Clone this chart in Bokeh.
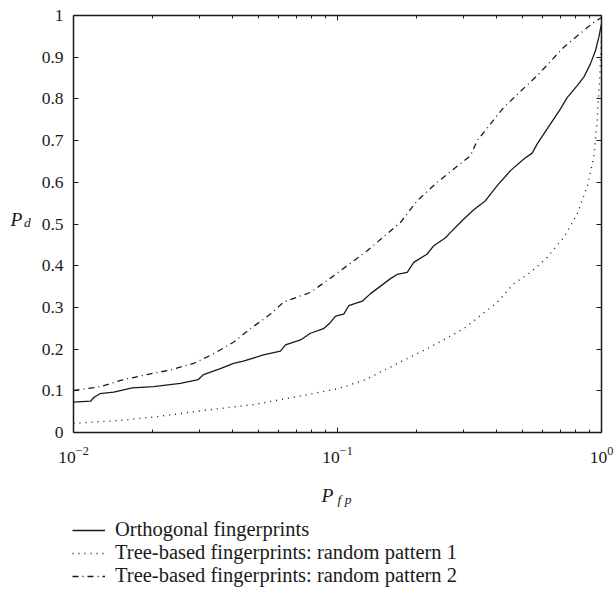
from bokeh.plotting import figure
from bokeh.layouts import column, row
from bokeh.models import (Range1d, LogAxis, LinearAxis, FixedTicker, NumeralTickFormatter,
                          LogTickFormatter, CustomJSTickFormatter, Legend, LegendItem)
from bokeh.core.properties import value
from bokeh.embed import file_html
from bokeh.resources import INLINE

# Orthogonal fingerprints (solid)
orth_pfp = [0.01, 0.0116, 0.012, 0.0126, 0.0142, 0.0167, 0.0201, 0.0254, 0.0297, 0.0311,
            0.036, 0.0404, 0.044, 0.0524, 0.0608, 0.0635, 0.0724, 0.079, 0.0885, 0.094,
            0.0983, 0.1056, 0.1103, 0.1241, 0.1334, 0.1588, 0.1683, 0.1837, 0.1945, 0.2187,
            0.2316, 0.2565, 0.268, 0.3009, 0.3283, 0.3636, 0.4026, 0.4522, 0.5078, 0.5464,
            0.5708, 0.6409, 0.6993, 0.7413, 0.809, 0.857, 0.908, 0.949, 0.977, 1.0]
orth_pd = [0.073, 0.075, 0.085, 0.093, 0.097, 0.107, 0.110, 0.118, 0.127, 0.139,
           0.153, 0.166, 0.171, 0.186, 0.195, 0.210, 0.222, 0.238, 0.249, 0.264,
           0.279, 0.284, 0.304, 0.315, 0.333, 0.369, 0.379, 0.384, 0.408, 0.428,
           0.448, 0.467, 0.480, 0.512, 0.534, 0.556, 0.592, 0.628, 0.656, 0.670,
           0.692, 0.740, 0.776, 0.803, 0.832, 0.852, 0.884, 0.916, 0.948, 0.98]

# Tree-based fingerprints: random pattern 1 (dotted)
tree1_pfp = [0.01, 0.01507, 0.0201, 0.0312, 0.0482, 0.0745, 0.1, 0.1258, 0.1683, 0.225,
             0.3009, 0.4026, 0.4655, 0.5384, 0.6228, 0.7197, 0.809, 0.8828, 0.935, 0.963,
             0.985, 1.0]
tree1_pd = [0.022, 0.029, 0.037, 0.053, 0.067, 0.089, 0.105, 0.125, 0.165, 0.205,
            0.249, 0.312, 0.357, 0.384, 0.420, 0.468, 0.524, 0.590, 0.660, 0.748,
            0.852, 0.95]

# Tree-based fingerprints: random pattern 2 (dash-dot)
tree2_pfp = [0.01, 0.01266, 0.01507, 0.019, 0.0233, 0.02856, 0.034, 0.0405, 0.0468, 0.0558,
             0.0626, 0.079, 0.0968, 0.1296, 0.1733, 0.2004, 0.2386, 0.319, 0.3382, 0.4266,
             0.5708, 0.7197, 0.935, 1.0]
tree2_pd = [0.1007, 0.110, 0.125, 0.139, 0.150, 0.166, 0.189, 0.217, 0.249, 0.284,
            0.313, 0.336, 0.376, 0.436, 0.504, 0.556, 0.600, 0.664, 0.700, 0.780,
            0.856, 0.924, 0.984, 0.995]

x_major_ticks = [0.01, 0.1, 1]
x_minor_ticks = [0.02, 0.03, 0.04, 0.05, 0.06, 0.07, 0.08, 0.09,
                 0.2, 0.3, 0.4, 0.5, 0.6, 0.7, 0.8, 0.9]
y_ticks = [0, 0.1, 0.2, 0.3, 0.4, 0.5, 0.6, 0.7, 0.8, 0.9, 1]
legend_labels = ["Orthogonal fingerprints",
                 "Tree-based fingerprints: random pattern 1",
                 "Tree-based fingerprints: random pattern 2"]
series_dash = ["solid", "1 5", "6 4 1 4"]

FONT = "Liberation Serif"
INK = "#1a1a1a"
NAN = float("nan")

def blank_fig(w, h, xr, yr):
    f = figure(width=w, height=h, x_range=xr, y_range=yr, output_backend="svg",
               toolbar_location=None, min_border=0)
    f.axis.visible = False
    f.grid.visible = False
    f.outline_line_color = None
    return f

# ---- main plot ----
p = figure(width=579, height=470, x_axis_type="log",
           x_range=Range1d(0.01, 1), y_range=Range1d(0, 1),
           output_backend="svg", toolbar_location=None,
           min_border_left=38, min_border_right=13, min_border_top=15, min_border_bottom=38)
p.xgrid.visible = False
p.ygrid.visible = False
p.outline_line_color = None

p.line(orth_pfp, orth_pd, line_color=INK, line_width=1.3, line_dash=series_dash[0])
p.line(tree1_pfp, tree1_pd, line_color=INK, line_width=1.4, line_dash=series_dash[1])
p.line(tree2_pfp, tree2_pd, line_color=INK, line_width=1.3, line_dash=series_dash[2])

def style_axis(ax, labels=True):
    ax.axis_line_color = INK
    ax.axis_line_width = 1.5
    ax.major_tick_line_color = INK
    ax.minor_tick_line_color = INK
    ax.major_tick_in = 5
    ax.major_tick_out = 0
    ax.minor_tick_in = 3
    ax.minor_tick_out = 0
    ax.major_label_text_font = FONT
    ax.major_label_text_color = INK
    ax.major_label_text_font_size = "17.5px"
    ax.major_label_standoff = 10
    if not labels:
        ax.formatter = CustomJSTickFormatter(code="return ''")
        ax.major_label_standoff = 0

xa = p.xaxis[0]
xa.ticker = FixedTicker(ticks=x_major_ticks, minor_ticks=x_minor_ticks)
xa.formatter = LogTickFormatter()
style_axis(xa)
xa.major_label_standoff = 14
ya = p.yaxis[0]
ya.ticker = FixedTicker(ticks=y_ticks)
ya.formatter = NumeralTickFormatter(format="0.[0]")
style_axis(ya)

top = LogAxis(ticker=FixedTicker(ticks=x_major_ticks, minor_ticks=x_minor_ticks))
style_axis(top, labels=False)
p.add_layout(top, "above")
right = LinearAxis(ticker=FixedTicker(ticks=y_ticks))
style_axis(right, labels=False)
p.add_layout(right, "right")

# ---- left strip: y-axis label P_d ----
left = blank_fig(35, 470, Range1d(0, 35), Range1d(470, 0))
left.text(x=[10], y=[230], text=["P"], text_font=value(FONT), text_font_style="italic",
          text_font_size="19.5px", text_color=INK, text_baseline="alphabetic")
left.text(x=[23.5], y=[233.5], text=["d"], text_font=value(FONT), text_font_style="italic",
          text_font_size="13.5px", text_color=INK, text_baseline="alphabetic")

# ---- bottom strip: x-axis label P_fp and legend ----
bottom = blank_fig(614, 126, Range1d(0, 614), Range1d(596, 470))
bottom.text(x=[321], y=[495], text=["P"], text_font=value(FONT), text_font_style="italic",
            text_font_size="19.5px", text_color=INK, text_baseline="alphabetic")
bottom.text(x=[337], y=[499], text=["f p"], text_font=value(FONT), text_font_style="italic",
            text_font_size="13.5px", text_color=INK, text_baseline="alphabetic")

items = []
for lab, dash in zip(legend_labels, series_dash):
    r = bottom.line(x=[NAN], y=[NAN], line_color=INK, line_width=1.3, line_dash=dash)
    items.append(LegendItem(label=lab, renderers=[r]))
lg = Legend(items=items, location=(72, 9), padding=0, margin=0, spacing=0,
            border_line_color=None, background_fill_alpha=0,
            glyph_width=33, glyph_height=20, label_height=20, label_standoff=10,
            label_text_font=FONT, label_text_font_size="20.5px", label_text_color=INK)
bottom.add_layout(lg)

layout = column(row(left, p), bottom)
open("out.html", "w").write(file_html(layout, INLINE))
